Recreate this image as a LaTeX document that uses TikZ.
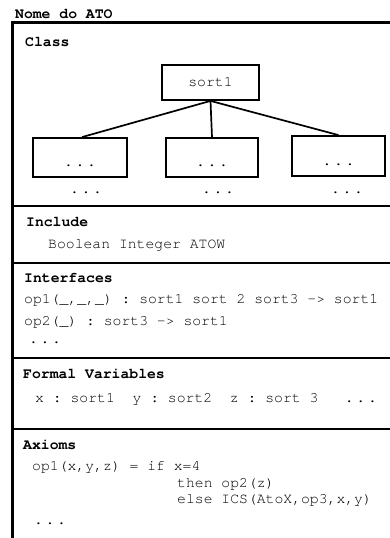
\documentclass[tikz,border=0pt]{standalone}
\usepackage{fontspec}
\setmonofont{texgyrecursor}[Extension=.otf,UprightFont=*-regular,BoldFont=*-bold]
\newcommand{\codesize}{\fontsize{14.75}{17}\selectfont}
\newcommand{\tridots}{.\kern2.7pt.\kern2.7pt.}
\begin{document}
\begin{tikzpicture}[x=1pt,y=-1pt,
  frameline/.style={line width=3pt},
  sepline/.style={line width=2.6pt},
  sortbox/.style={draw,line width=1.8pt,inner sep=0pt,font=\ttfamily\codesize},
  link/.style={line width=1.7pt},
  head/.style={anchor=base west,inner sep=0pt,font=\ttfamily\bfseries\codesize},
  body/.style={anchor=base west,inner sep=0pt,font=\ttfamily\codesize},
  dotsnode/.style={anchor=base,inner sep=0pt,font=\ttfamily\codesize}]
\useasboundingbox (0,0) rectangle (390,538);

% title and outer frame
\node[head] (title) at (15,18) {Nome do ATO};
\draw[frameline] (12,538) -- (12,22) -- (390,22);

% section separators
\draw[sepline] (12,206) -- (390,206);
\draw[sepline] (12,263) -- (390,263);
\draw[sepline] (12,358) -- (390,358);
\draw[sepline] (12,429) -- (390,429);

% Class section: sort hierarchy
\node[head] (class) at (25,46) {Class};
\node[sortbox,minimum width=97pt,minimum height=35pt] (root) at (210.5,82.5) {sort1};
\node[sortbox,minimum width=94pt,minimum height=39pt] (c1) at (80,157.5) {};
\node[sortbox,minimum width=92pt,minimum height=39pt] (c2) at (212,157.5) {};
\node[sortbox,minimum width=93pt,minimum height=40pt] (c3) at (338.5,156) {};
\draw[link] (root.south) -- ([xshift=2pt]c1.north);
\draw[link] (root.south) -- (c2.north);
\draw[link] (root.south) -- (c3.north);
\node[dotsnode] (d1) at (80,166) {\tridots};
\node[dotsnode] (d2) at (212,166) {\tridots};
\node[dotsnode] (d3) at (338.5,165) {\tridots};
\node[dotsnode] (e1) at (86,193) {\tridots};
\node[dotsnode] (e2) at (218,193) {\tridots};
\node[dotsnode] (e3) at (347,193) {\tridots};

% Include section
\node[head] (incl) at (26,226) {Include};
\node[body] (incltxt) at (48,248) {Boolean Integer ATOW};

% Interfaces section
\node[head] (intf) at (24,282) {Interfaces};
\node[body] (op1) at (24,303) {op1(\_,\_,\_) : sort1 sort 2 sort3 -> sort1};
\node[body] (op2) at (24,325) {op2(\_) : sort3 -> sort1};
\node[dotsnode] (intdots) at (45,343) {\tridots};

% Formal Variables section
\node[head] (fvars) at (23,378) {Formal Variables};
\node[body] (vars) at (35,402) {x : sort1~~y : sort2~~z : sort 3~~~\tridots};

% Axioms section
\node[head] (ax) at (23,449) {Axioms};
\node[body] (ax1) at (32,470) {op1(x,y,z) = if x=4};
\node[body] (ax2) at (177,487) {then op2(z)};
\node[body] (ax3) at (177,503) {else ICS(AtoX,op3,x,y)};
\node[dotsnode] (axdots) at (50,524) {\tridots};
\end{tikzpicture}
\end{document}
